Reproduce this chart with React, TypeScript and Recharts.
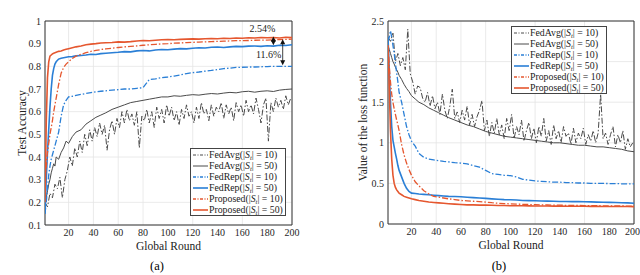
import React from 'react';
import { LineChart, Line, XAxis, YAxis, CartesianGrid, ReferenceArea, ReferenceLine } from 'recharts';

const RED = '#e5572f';
const BLUE = '#2a7fd6';
const GRAY = '#4a4a4a';
const DASHDOT = '6 2 1.5 2';
const FONT = "'Liberation Serif', 'Times New Roman', Times, serif";

// x values
const roundsSmooth = [1, 2, 3, 4, 5, 6, 7, 8, 9, 10, 12, 14, 16, 18, 20, 23, 26, 30, 34, 38, 42, 46, 50, 55, 60, 65, 70, 75, 80, 85, 90, 95, 100, 105, 110, 115, 120, 125, 130, 135, 140, 145, 150, 155, 160, 165, 170, 175, 180, 185, 190, 195, 200];
const roundsNoisy = [1, 3, 5, 7, 9, 11, 13, 15, 17, 19, 21, 23, 25, 27, 29, 31, 33, 35, 37, 39, 41, 43, 45, 47, 49, 51, 53, 55, 57, 59, 61, 63, 65, 67, 69, 71, 73, 75, 77, 79, 81, 83, 85, 87, 89, 91, 93, 95, 97, 99, 101, 103, 105, 107, 109, 111, 113, 115, 117, 119, 121, 123, 125, 127, 129, 131, 133, 135, 137, 139, 141, 143, 145, 147, 149, 151, 153, 155, 157, 159, 161, 163, 165, 167, 169, 171, 173, 175, 177, 179, 181, 183, 185, 187, 189, 191, 193, 195, 197, 199];
const xTicks = [20, 40, 60, 80, 100, 120, 140, 160, 180, 200];
const accTicks = [0.1, 0.2, 0.3, 0.4, 0.5, 0.6, 0.7, 0.8, 0.9, 1];
const lossTicks = [0, 0.5, 1, 1.5, 2, 2.5];

// (a) test accuracy
const accFedAvg10 = [
  0.20, 0.18, 0.24, 0.22, 0.28, 0.26, 0.31, 0.22, 0.30, 0.34,
  0.40, 0.36, 0.44, 0.40, 0.47, 0.42, 0.50, 0.45, 0.52, 0.47,
  0.53, 0.49, 0.55, 0.50, 0.54, 0.43, 0.52, 0.56, 0.50, 0.57,
  0.53, 0.60, 0.55, 0.61, 0.56, 0.59, 0.54, 0.60, 0.44, 0.58,
  0.56, 0.61, 0.55, 0.60, 0.53, 0.62, 0.57, 0.61, 0.55, 0.63,
  0.58, 0.62, 0.56, 0.60, 0.54, 0.61, 0.57, 0.63, 0.58, 0.60,
  0.55, 0.62, 0.57, 0.64, 0.59, 0.61, 0.56, 0.63, 0.58, 0.62,
  0.60, 0.64, 0.57, 0.63, 0.59, 0.62, 0.56, 0.64, 0.60, 0.63,
  0.58, 0.65, 0.60, 0.63, 0.59, 0.66, 0.61, 0.55, 0.63, 0.66,
  0.47, 0.64, 0.60, 0.66, 0.62, 0.65, 0.61, 0.67, 0.63, 0.66,
];
const accFedAvg50 = [
  0.20, 0.22, 0.25, 0.28, 0.30, 0.33, 0.35, 0.37, 0.36, 0.40,
  0.39, 0.42, 0.44, 0.47, 0.46, 0.49, 0.51,
  0.52, 0.545, 0.56, 0.575, 0.585, 0.595,
  0.61, 0.62, 0.63, 0.64, 0.645, 0.65, 0.655, 0.66, 0.665, 0.665,
  0.67, 0.668, 0.672, 0.675, 0.673, 0.677, 0.68, 0.678, 0.682, 0.685,
  0.683, 0.688, 0.69, 0.686, 0.69, 0.692, 0.689, 0.695, 0.698, 0.70,
];
const accFedRep10 = [
  0.15, 0.20, 0.26, 0.32, 0.36, 0.39, 0.41, 0.43, 0.45, 0.47,
  0.51, 0.58, 0.63, 0.65, 0.665, 0.668, 0.672,
  0.676, 0.68, 0.684, 0.688, 0.69, 0.692,
  0.695, 0.697, 0.70, 0.70, 0.703, 0.706, 0.742, 0.745, 0.75, 0.753,
  0.757, 0.762, 0.768, 0.772, 0.775, 0.779, 0.782, 0.786, 0.79, 0.792,
  0.795, 0.796, 0.797, 0.797, 0.798, 0.799, 0.80, 0.80, 0.80, 0.80,
];
const accFedRep50 = [
  0.15, 0.30, 0.42, 0.52, 0.62, 0.70, 0.76, 0.79, 0.81, 0.82,
  0.832, 0.836, 0.838, 0.84, 0.842, 0.843, 0.846,
  0.848, 0.85, 0.853, 0.852, 0.856, 0.858,
  0.86, 0.862, 0.865, 0.864, 0.868, 0.87, 0.868, 0.872, 0.874, 0.873,
  0.876, 0.878, 0.877, 0.88, 0.882, 0.881, 0.884, 0.885, 0.883, 0.886,
  0.888, 0.887, 0.889, 0.89, 0.888, 0.891, 0.889, 0.893, 0.892, 0.895,
];
const accProposed10 = [
  0.30, 0.36, 0.42, 0.46, 0.50, 0.53, 0.56, 0.60, 0.63, 0.66,
  0.72, 0.77, 0.795, 0.81, 0.82, 0.835, 0.845,
  0.853, 0.86, 0.866, 0.87, 0.874, 0.877,
  0.88, 0.883, 0.886, 0.888, 0.89, 0.893, 0.895, 0.897, 0.899, 0.90,
  0.902, 0.903, 0.905, 0.906, 0.907, 0.908, 0.909, 0.91, 0.911, 0.912,
  0.913, 0.913, 0.914, 0.915, 0.916, 0.916, 0.917, 0.918, 0.919, 0.92,
];
const accProposed50 = [
  0.20, 0.55, 0.75, 0.82, 0.845, 0.85, 0.855, 0.858, 0.86, 0.862,
  0.866, 0.868, 0.872, 0.875, 0.878, 0.882, 0.886,
  0.89, 0.895, 0.898, 0.90, 0.903, 0.904,
  0.905, 0.908, 0.907, 0.909, 0.912, 0.914, 0.913, 0.915, 0.917, 0.918,
  0.917, 0.919, 0.92, 0.921, 0.92, 0.922, 0.923, 0.922, 0.924, 0.923,
  0.925, 0.924, 0.926, 0.925, 0.927, 0.926, 0.927, 0.925, 0.928, 0.927,
];

// (b) loss
const lossFedAvg10 = [
  2.3, 2.25, 2.35, 2.0, 2.1, 1.95, 2.05, 1.9, 2.4, 1.85,
  1.75, 1.6, 1.7, 1.68, 1.55, 1.5, 1.62, 1.45, 1.58, 1.42,
  1.5, 1.35, 1.6, 1.4, 1.3, 1.45, 1.66, 1.3, 1.38, 1.25,
  1.4, 1.28, 1.45, 1.22, 1.35, 1.2, 1.32, 1.4, 1.52, 1.15,
  1.28, 1.08, 1.25, 1.12, 1.3, 1.1, 1.22, 1.05, 1.3, 1.15,
  1.35, 1.05, 1.2, 1.1, 1.28, 1.02, 1.15, 1.25, 1.05, 1.18,
  1.0, 1.2, 1.08, 1.3, 1.02, 1.15, 0.98, 1.22, 1.05, 1.15,
  1.0, 1.2, 1.08, 1.12, 0.98, 1.18, 1.0, 1.12, 1.05, 1.18,
  0.98, 1.1, 1.02, 1.15, 1.0, 1.12, 1.6, 1.05, 1.12, 0.98,
  1.1, 1.2, 0.95, 1.1, 1.0, 1.15, 0.92, 1.05, 0.95, 1.0,
];
const lossFedAvg50 = [
  2.2, 2.15, 2.1, 2.05, 2.0, 1.97, 1.93, 1.9, 1.87, 1.83,
  1.78, 1.72, 1.67, 1.63, 1.58, 1.54, 1.5,
  1.47, 1.43, 1.4, 1.37, 1.34, 1.31,
  1.28, 1.25, 1.22, 1.2, 1.17, 1.14, 1.12, 1.1, 1.08, 1.07,
  1.06, 1.05, 1.04, 1.03, 1.02, 1.01, 1.0, 1.0, 0.99, 0.98,
  0.97, 0.97, 0.96, 0.95, 0.95, 0.94, 0.93, 0.92, 0.9, 0.89,
];
const lossFedRep10 = [
  2.25, 2.3, 2.38, 2.3, 2.2, 2.1, 1.98, 1.86, 1.75, 1.62,
  1.5, 1.35, 1.2, 1.1, 1.02, 0.96, 0.87,
  0.82, 0.8, 0.79, 0.78, 0.77, 0.765,
  0.755, 0.75, 0.74, 0.72, 0.70, 0.66, 0.62, 0.61, 0.6, 0.595,
  0.58, 0.55, 0.54, 0.53, 0.525, 0.52, 0.515, 0.515, 0.51, 0.51,
  0.505, 0.505, 0.50, 0.50, 0.50, 0.498, 0.498, 0.495, 0.495, 0.495,
];
const lossFedRep50 = [
  2.3, 1.9, 1.5, 1.2, 1.03, 0.95, 0.87, 0.8, 0.72, 0.66,
  0.58, 0.5, 0.44, 0.4, 0.38, 0.375, 0.37,
  0.365, 0.36, 0.355, 0.35, 0.345, 0.34,
  0.338, 0.335, 0.33, 0.325, 0.32, 0.315, 0.31, 0.305, 0.3, 0.298,
  0.295, 0.29, 0.288, 0.286, 0.284, 0.282, 0.28, 0.278, 0.277, 0.276,
  0.275, 0.274, 0.272, 0.27, 0.268, 0.266, 0.264, 0.262, 0.26, 0.255,
];
const lossProposed10 = [
  2.2, 1.95, 1.75, 1.6, 1.5, 1.42, 1.35, 1.28, 1.22, 1.15,
  0.98, 0.85, 0.75, 0.67, 0.6, 0.52, 0.47,
  0.41, 0.37, 0.34, 0.33, 0.32, 0.31,
  0.30, 0.29, 0.285, 0.28, 0.275, 0.27, 0.262, 0.256, 0.252, 0.248,
  0.245, 0.242, 0.24, 0.238, 0.236, 0.234, 0.233, 0.232, 0.23, 0.229,
  0.228, 0.227, 0.226, 0.225, 0.224, 0.223, 0.222, 0.222, 0.221, 0.22,
];
const lossProposed50 = [
  2.2, 1.7, 1.15, 0.8, 0.6, 0.5, 0.45, 0.42, 0.4, 0.38,
  0.36, 0.34, 0.33, 0.32, 0.31, 0.3, 0.29,
  0.28, 0.27, 0.265, 0.26, 0.255, 0.25,
  0.245, 0.24, 0.236, 0.235, 0.233, 0.232, 0.23, 0.228, 0.227, 0.225,
  0.225, 0.224, 0.223, 0.222, 0.222, 0.221, 0.22, 0.22, 0.219, 0.219,
  0.218, 0.218, 0.217, 0.217, 0.216, 0.216, 0.215, 0.215, 0.215, 0.214,
];

const toPoints = (xs: number[], ys: number[]) => xs.map((x, i) => ({ x, y: ys[i] }));

const legendItems = [
  { name: 'FedAvg', n: 10, color: GRAY, dash: true, width: 1 },
  { name: 'FedAvg', n: 50, color: GRAY, dash: false, width: 1 },
  { name: 'FedRep', n: 10, color: BLUE, dash: true, width: 1.3 },
  { name: 'FedRep', n: 50, color: BLUE, dash: false, width: 1.6 },
  { name: 'Proposed', n: 10, color: RED, dash: true, width: 1.3 },
  { name: 'Proposed', n: 50, color: RED, dash: false, width: 1.6 },
];

function buildSeries(ys: number[][]) {
  return legendItems.map((it, i) => ({
    ...it,
    data: toPoints(i === 0 ? roundsNoisy : roundsSmooth, ys[i]),
  }));
}

const accSeries = buildSeries([accFedAvg10, accFedAvg50, accFedRep10, accFedRep50, accProposed10, accProposed50]);
const lossSeries = buildSeries([lossFedAvg10, lossFedAvg50, lossFedRep10, lossFedRep50, lossProposed10, lossProposed50]);

const tickStyle = { fontSize: 10, fill: '#262626', style: { fontFamily: FONT } };

function LegendBox({ left, top }: { left: number; top: number }) {
  return (
    <div style={{ position: 'absolute', left, top, border: '1px solid #444', background: '#fff', padding: '0 2px 0 2px', fontFamily: FONT, fontSize: 9.8, color: '#222', lineHeight: '11px' }}>
      {legendItems.map((it, i) => (
        <div key={i} style={{ display: 'flex', alignItems: 'center', height: 11, whiteSpace: 'nowrap' }}>
          <svg width={15} height={6} style={{ marginRight: 1 }}>
            <line x1={0} y1={3} x2={15} y2={3} stroke={it.color} strokeWidth={it.width} strokeDasharray={it.dash ? '3 1.5 1 1.5' : undefined} />
          </svg>
          <span>
            {it.name}(|<i>S</i><span style={{ fontSize: 6.5, fontStyle: 'italic', position: 'relative', top: 2 }}>t</span>| = {it.n})
          </span>
        </div>
      ))}
    </div>
  );
}

function arrow(text: string, tdx: number, tdy: number) {
  return (p: any) => {
    const { x1, y1, x2, y2 } = p;
    return (
      <g>
        <line x1={x1} y1={y1 + 3} x2={x2} y2={y2 - 3} stroke="#111" strokeWidth={0.8} />
        <path d={`M${x1},${y1} L${x1 - 2.5},${y1 + 5} L${x1 + 2.5},${y1 + 5} Z`} fill="#111" />
        <path d={`M${x2},${y2} L${x2 - 2.5},${y2 - 5} L${x2 + 2.5},${y2 - 5} Z`} fill="#111" />
        <text x={x1 + tdx} y={y1 + tdy} textAnchor="middle" fontSize={10} style={{ fontFamily: FONT }} fill="#222">{text}</text>
      </g>
    );
  };
}

function Panel({ series, yDomain, yTicks, yWidth, yLabel, yLabelOffset, marginRight, height, children }: any) {
  return (
    <LineChart width={320} height={height} margin={{ top: 21, right: marginRight, bottom: 0, left: 0 }} style={{ fontFamily: FONT }}>
      <CartesianGrid stroke="#e4e4e4" strokeWidth={0.8} />
      <XAxis
        type="number"
        dataKey="x"
        domain={[1, 200]}
        ticks={xTicks}
        allowDataOverflow
        tick={tickStyle}
        tickSize={2}
        tickLine={false}
        axisLine={false}
        height={30}
        label={{ value: 'Global Round', position: 'insideBottom', offset: 5, style: { fontSize: 11.5, fontFamily: FONT, fill: '#222' } }}
      />
      <YAxis
        type="number"
        domain={yDomain}
        ticks={yTicks}
        allowDataOverflow
        width={yWidth}
        tick={tickStyle}
        tickSize={2}
        tickLine={false}
        axisLine={false}
        label={{ value: yLabel, angle: -90, position: 'insideLeft', offset: yLabelOffset, style: { fontSize: 11.5, fontFamily: FONT, fill: '#222', textAnchor: 'middle' } }}
      />
      <ReferenceArea x1={1} x2={200} y1={yDomain[0]} y2={yDomain[1]} fill="none" stroke="#333" strokeWidth={1} ifOverflow="visible" />
      {series.map((s: any, i: number) => (
        <Line
          key={i}
          data={s.data}
          dataKey="y"
          type="linear"
          stroke={s.color}
          strokeWidth={s.width}
          strokeDasharray={s.dash ? DASHDOT : undefined}
          dot={false}
          isAnimationActive={false}
        />
      ))}
      {children}
    </LineChart>
  );
}

export default function App() {
  return (
    <div style={{ position: 'absolute', left: 0, top: 0, width: 640, height: 275, background: '#fff', fontFamily: FONT }}>
      <div style={{ position: 'absolute', left: 0, top: 0 }}>
        <Panel series={accSeries} yDomain={[0.1, 1]} yTicks={accTicks} yWidth={45} yLabel="Test Accuracy" yLabelOffset={22} marginRight={28} height={255}>
          <ReferenceLine segment={[{ x: 185, y: 0.932 }, { x: 185, y: 0.893 }]} shape={arrow('2.54%', -11, -4)} />
          <ReferenceLine segment={[{ x: 192.5, y: 0.92 }, { x: 192.5, y: 0.805 }]} shape={arrow('11.6%', -14, 19)} />
        </Panel>
      </div>
      <div style={{ position: 'absolute', left: 320, top: 0 }}>
        <Panel series={lossSeries} yDomain={[0, 2.5]} yTicks={lossTicks} yWidth={68} yLabel="Value of the loss function" yLabelOffset={43} marginRight={6} height={254} />
      </div>
      <LegendBox left={190} top={148} />
      <LegendBox left={511} top={26} />
      <div style={{ position: 'absolute', left: 157, top: 259, transform: 'translateX(-50%)', fontSize: 12.5 }}>(a)</div>
      <div style={{ position: 'absolute', left: 499, top: 259, transform: 'translateX(-50%)', fontSize: 12.5 }}>(b)</div>
    </div>
  );
}
